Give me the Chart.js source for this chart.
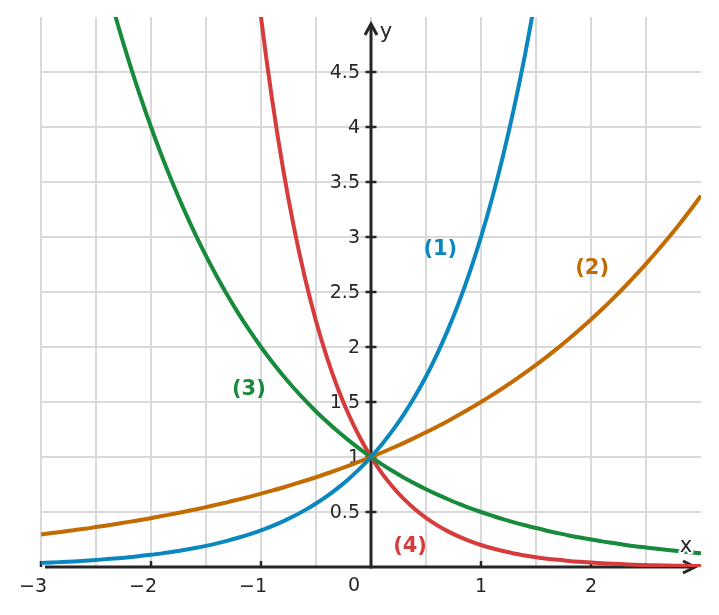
<!DOCTYPE html>
<html>
<head>
<meta charset="utf-8">
<script src="https://cdn.jsdelivr.net/npm/chart.js"></script>
<style>
  html, body { margin: 0; padding: 0; background: #fff; }
  #wrap { width: 719px; height: 615px; position: relative; }
</style>
</head>
<body>
<div id="wrap"><canvas id="chart"></canvas></div>
<script>
// x samples (step 0.1) and the four curves
const xs = [-3.0, -2.9, -2.8, -2.7, -2.6, -2.5, -2.4, -2.3, -2.2, -2.1,
            -2.0, -1.9, -1.8, -1.7, -1.6, -1.5, -1.4, -1.3, -1.2, -1.1,
            -1.0, -0.9, -0.8, -0.7, -0.6, -0.5, -0.4, -0.3, -0.2, -0.1,
             0.0,  0.1,  0.2,  0.3,  0.4,  0.5,  0.6,  0.7,  0.8,  0.9,
             1.0,  1.1,  1.2,  1.3,  1.4,  1.5,  1.6,  1.7,  1.8,  1.9,
             2.0,  2.1,  2.2,  2.3,  2.4,  2.5,  2.6,  2.7,  2.8,  2.9, 3.0];

// (1)
const curve1 = [0.037, 0.041, 0.046, 0.051, 0.057, 0.064, 0.072, 0.080, 0.089, 0.100,
                0.111, 0.124, 0.138, 0.154, 0.172, 0.192, 0.215, 0.240, 0.268, 0.299,
                0.333, 0.372, 0.415, 0.463, 0.517, 0.577, 0.644, 0.719, 0.803, 0.896,
                1.000, 1.116, 1.246, 1.390, 1.552, 1.732, 1.933, 2.158, 2.408, 2.688,
                3.000, 3.348, 3.737, 4.171, 4.656, 5.196, null, null, null, null,
                null, null, null, null, null, null, null, null, null, null, null];
// (2)
const curve2 = [0.296, 0.309, 0.321, 0.335, 0.348, 0.363, 0.378, 0.394, 0.410, 0.427,
                0.444, 0.463, 0.482, 0.502, 0.523, 0.544, 0.567, 0.590, 0.615, 0.640,
                0.667, 0.694, 0.723, 0.753, 0.784, 0.816, 0.850, 0.885, 0.922, 0.960,
                1.000, 1.041, 1.084, 1.129, 1.176, 1.225, 1.275, 1.328, 1.383, 1.440,
                1.500, 1.562, 1.627, 1.694, 1.764, 1.837, 1.913, 1.992, 2.075, 2.161,
                2.250, 2.343, 2.440, 2.541, 2.646, 2.756, 2.870, 2.988, 3.112, 3.241, 3.375];
// (3)
const curve3 = [null, null, null, null, null, null, 5.278, 4.925, 4.595, 4.287,
                4.000, 3.732, 3.482, 3.249, 3.031, 2.828, 2.639, 2.462, 2.297, 2.144,
                2.000, 1.866, 1.741, 1.625, 1.516, 1.414, 1.320, 1.231, 1.149, 1.072,
                1.000, 0.933, 0.870, 0.812, 0.758, 0.707, 0.660, 0.616, 0.574, 0.536,
                0.500, 0.467, 0.435, 0.406, 0.379, 0.354, 0.330, 0.308, 0.287, 0.268,
                0.250, 0.233, 0.218, 0.203, 0.189, 0.177, 0.165, 0.154, 0.144, 0.134, 0.125];
// (4)
const curve4 = [null, null, null, null, null, null, null, null, null, null,
                null, null, null, null, null, null, null, null, null, 5.873,
                5.000, 4.257, 3.624, 3.085, 2.627, 2.236, 1.904, 1.621, 1.380, 1.175,
                1.000, 0.851, 0.725, 0.617, 0.525, 0.447, 0.381, 0.324, 0.276, 0.235,
                0.200, 0.170, 0.145, 0.123, 0.105, 0.089, 0.076, 0.065, 0.055, 0.047,
                0.040, 0.034, 0.029, 0.025, 0.021, 0.018, 0.015, 0.013, 0.011, 0.009, 0.008];

const seriesNames = ['(1)', '(2)', '(3)', '(4)'];
const xTickLabels = [-3, -2, -1, 0, 1, 2];
const yTickLabels = [0.5, 1, 1.5, 2, 2.5, 3, 3.5, 4, 4.5];

const colors = ['#0a87bf', '#c26b00', '#178a3c', '#d63c3c'];
// where the (n) tags sit, in data units
const tagPos = [[0.63, 2.89], [2.01, 2.71], [-1.11, 1.61], [0.355, 0.19]];

const INK = '#262626';
const FONT = '"DejaVu Sans", sans-serif';

function pts(ys) {
    return xs.map((x, i) => ({ x: x, y: ys[i] }));
}

function fmt(v) {
    const s = String(Math.abs(v));
    return v < 0 ? '\u2212' + s : s;
}

// axes with arrows, ticks and labels (drawn under the curves)
const axesPlugin = {
    id: 'axes',
    beforeDatasetsDraw(chart) {
        const { ctx, chartArea: a, scales: { x, y } } = chart;
        const ox = x.getPixelForValue(0);
        const oy = y.getPixelForValue(0);
        ctx.save();
        ctx.strokeStyle = INK;
        ctx.fillStyle = INK;
        ctx.lineWidth = 3;
        ctx.lineCap = 'butt';

        // y axis
        ctx.beginPath();
        ctx.moveTo(ox, oy + 1.5);
        ctx.lineTo(ox, a.top + 7);
        ctx.stroke();
        ctx.beginPath();
        ctx.moveTo(ox - 6, a.top + 18);
        ctx.lineTo(ox, a.top + 7);
        ctx.lineTo(ox + 6, a.top + 18);
        ctx.stroke();

        // x axis
        ctx.beginPath();
        ctx.moveTo(a.left + 4, oy);
        ctx.lineTo(a.right - 6, oy);
        ctx.stroke();
        ctx.beginPath();
        ctx.moveTo(a.right - 18, oy - 6);
        ctx.lineTo(a.right - 6, oy);
        ctx.lineTo(a.right - 18, oy + 6);
        ctx.stroke();

        ctx.lineWidth = 2.5;
        ctx.font = '19px ' + FONT;

        // y ticks + labels
        ctx.textAlign = 'right';
        ctx.textBaseline = 'middle';
        yTickLabels.forEach(v => {
            const py = y.getPixelForValue(v);
            ctx.beginPath();
            ctx.moveTo(ox - 5.5, py);
            ctx.lineTo(ox + 5.5, py);
            ctx.stroke();
            ctx.fillText(fmt(v), ox - 11, py + 1);
        });

        // x ticks + labels
        xTickLabels.forEach(v => {
            const px = x.getPixelForValue(v);
            if (v === 0) {
                ctx.textAlign = 'right';
                ctx.fillText('0', ox - 11, oy + 19);
                return;
            }
            ctx.beginPath();
            ctx.moveTo(px, oy - 6);
            ctx.lineTo(px, oy);
            ctx.stroke();
            const digit = String(Math.abs(v));
            ctx.textAlign = 'right';
            ctx.fillText(fmt(v), px + ctx.measureText(digit).width / 2, oy + 20);
        });
        ctx.restore();
    },
    afterDatasetsDraw(chart) {
        const { ctx, chartArea: a, scales: { x, y } } = chart;
        const ox = x.getPixelForValue(0);
        const oy = y.getPixelForValue(0);
        ctx.save();
        ctx.textAlign = 'center';
        ctx.textBaseline = 'middle';
        ctx.font = '21px ' + FONT;
        ctx.lineJoin = 'round';
        ctx.strokeStyle = '#fff';
        ctx.lineWidth = 4;
        ctx.fillStyle = INK;
        ctx.strokeText('x', a.right - 15, oy - 20);
        ctx.fillText('x', a.right - 15, oy - 20);
        ctx.strokeText('y', ox + 15, a.top + 16);
        ctx.fillText('y', ox + 15, a.top + 16);

        ctx.font = 'bold 21px ' + FONT;
        seriesNames.forEach((name, i) => {
            ctx.fillStyle = colors[i];
            ctx.fillText(name, x.getPixelForValue(tagPos[i][0]), y.getPixelForValue(tagPos[i][1]));
        });
        ctx.restore();
    }
};

function gridColor(maxVal) {
    return c => (c.tick && (c.tick.value === maxVal || c.tick.value === 0 && maxVal === 5)) ? 'rgba(0,0,0,0)' : '#d9d9d9';
}

new Chart(document.getElementById('chart').getContext('2d'), {
    type: 'line',
    data: {
        datasets: [curve1, curve2, curve3, curve4].map((ys, i) => ({
            label: seriesNames[i],
            data: pts(ys),
            borderColor: colors[i],
            borderWidth: 4,
            pointRadius: 0,
            fill: false,
            cubicInterpolationMode: 'monotone',
            spanGaps: false
        }))
    },
    options: {
        responsive: true,
        maintainAspectRatio: false,
        animation: false,
        layout: { padding: { left: 41, right: 18, top: 17, bottom: 48 } },
        plugins: { legend: { display: false }, tooltip: { enabled: false } },
        scales: {
            x: {
                type: 'linear',
                min: -3, max: 3,
                position: { y: 0 },
                ticks: { stepSize: 0.5, display: false },
                border: { display: false },
                grid: { color: gridColor(3), lineWidth: 2, drawTicks: false }
            },
            y: {
                type: 'linear',
                min: 0, max: 5,
                position: { x: 0 },
                ticks: { stepSize: 0.5, display: false },
                border: { display: false },
                grid: { color: gridColor(5), lineWidth: 2, drawTicks: false }
            }
        }
    },
    plugins: [axesPlugin]
});
</script>
</body>
</html>
